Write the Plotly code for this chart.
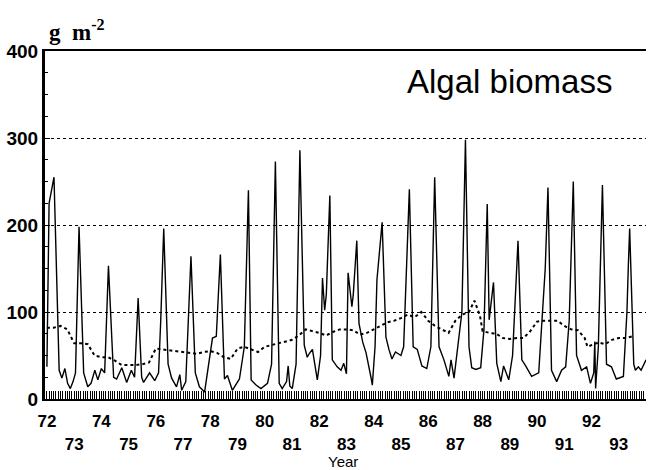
import plotly.graph_objects as go

# ---- data ----
years = list(range(1972, 1994))
year_labels = ["72", "73", "74", "75", "76", "77", "78", "79", "80", "81", "82",
               "83", "84", "85", "86", "87", "88", "89", "90", "91", "92", "93"]

biomass_t = [
    1972.00, 1972.08, 1972.26, 1972.45, 1972.55, 1972.66, 1972.76, 1972.86, 1972.96, 1973.05, 1973.18,
    1973.35, 1973.50, 1973.62, 1973.76, 1973.87, 1974.00, 1974.12, 1974.26,
    1974.45, 1974.56, 1974.75, 1974.93, 1975.10, 1975.22, 1975.35,
    1975.48, 1975.55, 1975.77, 1975.96, 1976.10, 1976.18, 1976.29,
    1976.45, 1976.58, 1976.76, 1976.88, 1976.95, 1977.10, 1977.20, 1977.29,
    1977.45, 1977.60, 1977.79, 1977.97, 1978.08, 1978.22, 1978.37,
    1978.52, 1978.63, 1978.81, 1979.07, 1979.25, 1979.40,
    1979.50, 1979.68, 1979.86, 1980.10, 1980.25, 1980.39,
    1980.53, 1980.64, 1980.80, 1980.86, 1980.92, 1981.01, 1981.15, 1981.29,
    1981.45, 1981.56, 1981.63, 1981.75, 1981.93, 1982.05, 1982.12, 1982.20, 1982.26, 1982.39,
    1982.48, 1982.66, 1982.80, 1982.90, 1983.00, 1983.06, 1983.20, 1983.25, 1983.38,
    1983.46, 1983.60, 1983.72, 1983.90, 1983.95, 1984.05, 1984.12, 1984.31,
    1984.45, 1984.56, 1984.67, 1984.80, 1985.00, 1985.10, 1985.31,
    1985.45, 1985.60, 1985.77, 1985.95, 1986.10, 1986.24,
    1986.40, 1986.58, 1986.76, 1986.84, 1986.95, 1987.13, 1987.24, 1987.37,
    1987.50, 1987.60, 1987.75, 1987.93, 1988.05, 1988.17, 1988.24, 1988.40,
    1988.52, 1988.67, 1988.77, 1988.96, 1989.10, 1989.30,
    1989.44, 1989.58, 1989.80, 1990.06, 1990.20, 1990.30, 1990.36, 1990.40,
    1990.53, 1990.72, 1990.90, 1991.05, 1991.18, 1991.33,
    1991.45, 1991.63, 1991.82, 1991.96, 1992.08, 1992.12, 1992.15, 1992.25, 1992.40,
    1992.55, 1992.73, 1992.91, 1993.17, 1993.30, 1993.35, 1993.40,
    1993.55, 1993.61, 1993.72, 1993.82, 1994.00,
]
biomass_v = [
    37, 225, 255, 33, 24, 35, 18, 12, 20, 30, 198,
    30, 14, 18, 33, 22, 35, 30, 153,
    25, 23, 36, 19, 33, 25, 116,
    25, 19, 30, 21, 30, 90, 196,
    40, 24, 14, 28, 10, 20, 90, 164,
    30, 14, 8, 45, 70, 72, 166,
    23, 27, 10, 23, 60, 240,
    22, 16, 12, 18, 40, 273,
    18, 12, 20, 38, 15, 12, 40, 286,
    62, 48, 52, 57, 22, 50, 139, 102, 120, 234,
    45, 37, 33, 41, 29, 145, 106, 120, 182,
    87, 65, 53, 25, 16, 60, 137, 203,
    71, 57, 46, 54, 50, 60, 241,
    60, 57, 38, 35, 60, 255,
    60, 45, 26, 45, 24, 71, 100, 298,
    60, 36, 34, 36, 80, 224, 91, 134,
    41, 20, 38, 22, 50, 182,
    45, 38, 26, 30, 100, 150, 206, 243,
    33, 20, 33, 37, 90, 250,
    50, 33, 37, 18, 30, 66, 12, 60, 246,
    40, 37, 23, 26, 100, 152, 196,
    40, 33, 37, 33, 45,
]

mean_t = [
    1972.00, 1972.25, 1972.50, 1972.75, 1973.00, 1973.25, 1973.50, 1973.75,
    1974.00, 1974.25, 1974.50, 1974.75, 1975.00, 1975.25, 1975.50, 1975.75,
    1976.00, 1976.25, 1976.50, 1976.75, 1977.00, 1977.25, 1977.50, 1977.75,
    1978.00, 1978.25, 1978.50, 1978.75, 1979.00, 1979.25, 1979.50, 1979.75,
    1980.00, 1980.25, 1980.50, 1980.75, 1981.00, 1981.25, 1981.50, 1981.75,
    1982.00, 1982.25, 1982.50, 1982.75, 1983.00, 1983.25, 1983.50, 1983.75,
    1984.00, 1984.25, 1984.50, 1984.75, 1985.00, 1985.25, 1985.50, 1985.75,
    1986.00, 1986.25, 1986.50, 1986.75, 1987.00, 1987.25, 1987.50, 1987.70, 1987.90,
    1988.00, 1988.25, 1988.50, 1988.75, 1989.00, 1989.25, 1989.50, 1989.75,
    1990.00, 1990.25, 1990.50, 1990.75, 1991.00, 1991.25, 1991.50, 1991.75, 1991.85,
    1992.00, 1992.25, 1992.50, 1992.75, 1993.00, 1993.25, 1993.50,
]
mean_v = [
    82, 82, 84, 80, 64, 64, 63, 50,
    48, 48, 44, 39, 39, 39, 40, 42,
    58, 57, 56, 55, 54, 53, 52, 54,
    55, 53, 48, 46, 58, 60, 57, 54,
    60, 62, 64, 66, 68, 73, 80, 78,
    76, 73, 77, 80, 80, 79, 74, 76,
    80, 84, 88, 90, 93, 97, 94, 100,
    90, 84, 80, 76, 90, 97, 100, 113, 96,
    78, 76, 75, 70, 69, 70, 70, 78,
    89, 90, 90, 90, 84, 80, 79, 70, 60,
    62, 65, 63, 68, 70, 70, 72,
]

y_ticks = [0, 100, 200, 300, 400]

# ---- figure ----
ticktext = [lab if i % 2 == 0 else "<br>" + lab for i, lab in enumerate(year_labels)]

fig = go.Figure()
fig.add_trace(go.Scatter(x=biomass_t, y=biomass_v, mode="lines",
                         line=dict(color="black", width=1.4), showlegend=False))
fig.add_trace(go.Scatter(x=mean_t, y=mean_v, mode="lines",
                         line=dict(color="black", width=2, dash="dot"), showlegend=False))

fig.update_layout(
    width=649, height=470,
    margin=dict(l=45, r=3, t=51, b=71),
    paper_bgcolor="white", plot_bgcolor="white",
    font=dict(family="Liberation Sans, Arial", color="black"),
    showlegend=False,
)
fig.update_xaxes(
    range=[1971.93, 1994.0],
    tickmode="array", tickvals=years, ticktext=ticktext,
    ticks="inside", ticklen=8, tickwidth=1, tickcolor="black",
    tickfont=dict(size=17, family="Liberation Sans", weight="bold"),
    ticklabelstandoff=6,
    minor=dict(tickmode="linear", tick0=1972, dtick=1 / 12, ticks="inside",
               ticklen=8, tickwidth=1, tickcolor="black", showgrid=False),
    showline=True, linecolor="black", linewidth=2, mirror=True,
    showgrid=False, zeroline=False,
)
fig.update_yaxes(
    range=[0, 400],
    tickmode="array", tickvals=y_ticks,
    ticks="inside", ticklen=5, tickwidth=1, tickcolor="black",
    tickfont=dict(size=19, family="Liberation Sans", weight="bold"),
    minor=dict(tickmode="linear", tick0=0, dtick=25, ticks="inside",
               ticklen=3, tickwidth=1, tickcolor="black", showgrid=False),
    showline=True, linecolor="black", linewidth=3,
    showgrid=True, gridcolor="black", gridwidth=1, griddash="dot",
    zeroline=False,
)

fig.add_annotation(xref="paper", yref="paper", x=0.773, y=0.912,
                   text="Algal biomass", showarrow=False,
                   font=dict(size=33, family="Liberation Sans", color="black"),
                   xanchor="center", yanchor="middle")
fig.add_annotation(xref="paper", yref="paper", x=0.003, y=1.012,
                   text="g\u00a0\u00a0m<sup>-2</sup>", showarrow=False,
                   font=dict(size=23, family="Liberation Serif", weight="bold", color="black"),
                   xanchor="left", yanchor="bottom")
fig.add_annotation(xref="paper", yref="paper", x=0.496, y=-0.179,
                   text="Year", showarrow=False,
                   font=dict(size=15, family="Liberation Sans", color="black"),
                   xanchor="center", yanchor="middle")

fig.write_html("out.html")
